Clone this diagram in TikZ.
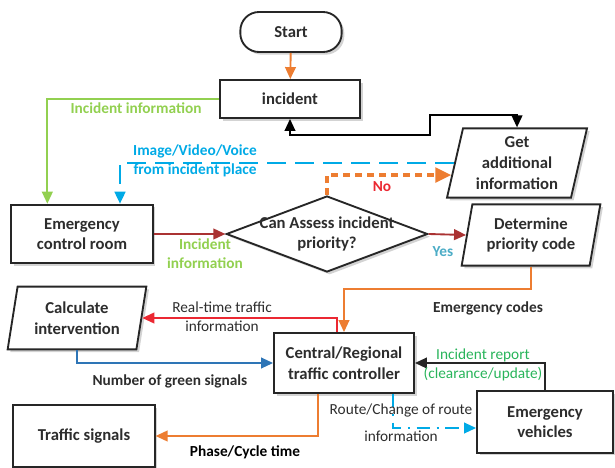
\documentclass[tikz,border=0pt]{standalone}
\usepackage{fontspec}
\setmainfont{Carlito}
\usetikzlibrary{shapes.geometric,shadows,arrows.meta,calc}

\definecolor{cOrange}{RGB}{237,125,49}
\definecolor{cLime}{RGB}{146,208,80}
\definecolor{cSky}{RGB}{0,170,230}
\definecolor{cBlue}{RGB}{46,117,182}
\definecolor{cBrick}{RGB}{170,50,50}
\definecolor{cRed}{RGB}{235,40,50}
\definecolor{cTeal}{RGB}{75,172,198}
\definecolor{cGreen}{RGB}{40,180,90}
\definecolor{cText}{RGB}{45,45,45}

\begin{document}
\begin{tikzpicture}[x=0.75pt,y=-0.75pt]
                \tikzset{every node/.style={font=\fontsize{12.5}{15.5}\selectfont\bfseries, align=center, text=cText},
                         box/.style={draw=black!85, line width=1.4pt, fill=white, drop shadow={shadow xshift=2pt, shadow yshift=-2pt, opacity=.35}},
                         iobox/.style={box, trapezium, trapezium left angle=73, trapezium right angle=107, trapezium stretches body, inner sep=0pt},
                         lbl/.style={font=\fontsize{11.5}{14.5}\selectfont\bfseries},
                         wire/.style={line width=1.4pt, -{Triangle[length=9pt,width=8pt]}}}
                \useasboundingbox (0,0) rectangle (615,468);
                % start and incident
                \node[box, rounded corners=14pt, minimum width=76pt, minimum height=30pt] (start) at (291,32) {Start};
                \node[box, minimum width=105pt, minimum height=28.5pt] (incident) at (290,99) {incident};
                \node[iobox, minimum width=105pt, minimum height=52pt] (getinfo) at (517,163) {Get\\additional\\information};
                % decision row
                \node[box, minimum width=106pt, minimum height=44pt] (ecr) at (82,234) {Emergency\\control room};
                \node[box, diamond, minimum width=151pt, minimum height=57pt, inner sep=0pt] (assess) at (327,234) {};
                \node (assesstxt) at (assess) {Can Assess incident\\priority?};
                \node[iobox, minimum width=104pt, minimum height=46pt] (dpc) at (531,235) {Determine\\priority code};
                % controller row
                \node[iobox, minimum width=104pt, minimum height=47pt] (calc) at (77,318) {Calculate\\intervention};
                \node[box, minimum width=105pt, minimum height=45pt] (ctrl) at (344,363) {Central/Regional\\traffic controller};
                \node[box, minimum width=106pt, minimum height=46pt] (ts) at (84,436) {Traffic signals};
                \node[box, minimum width=102pt, minimum height=46pt] (ev) at (545,422) {Emergency\\vehicles};
                % connectors
                \draw[wire, cOrange] (start) -- (incident);
                \draw[wire, cLime] (incident.west) -| ([xshift=-26pt]ecr.north);
                \node[lbl, text=cLime] (lInfo) at (136,108) {Incident information};
                \draw[line width=1.4pt, {Triangle[length=9pt,width=8pt]}-{Triangle[length=9pt,width=8pt]}] (incident.south) -- ++(0,16) -| (430,115) -| (getinfo.north);
                \draw[wire, cSky, line width=1.8pt, dash pattern=on 14pt off 7pt] (getinfo.west) -| ([xshift=28.5pt]ecr.north);
                \node[lbl, text=cSky] (lMedia) at (195,161) {Image/Video/Voice\\from incident place};
                \draw[cOrange, line width=2.6pt, dash pattern=on 5pt off 4pt, -{Triangle[length=12pt,width=11pt]}] (assess.north) |- ($(getinfo.bottom left corner)!.33!(getinfo.top left corner)$);
                \node[lbl, text=cRed] (lNo) at (382,187) {No};
                \draw[wire, cBrick] (ecr) -- (assess.west);
                \node[lbl, text=cLime] (lInfo2) at (205,254) {Incident\\information};
                \draw[wire, cBrick] (assess.east) -- (dpc.west);
                \node[lbl, text=cTeal] (lYes) at (443,252) {Yes};
                \draw[wire, cOrange] (dpc.south) -- ++(0,22) -| (ctrl.north);
                \node[lbl] (lCodes) at (488,308) {Emergency codes};
                \draw[wire, cRed] ([xshift=-5.5pt]ctrl.north) |- (calc.east);
                \node[lbl, font=\fontsize{11.5}{14.5}\selectfont] (lReal) at (222,317) {Real-time traffic\\information};
                \draw[wire, cBlue] (calc.south) |- (ctrl.west);
                \node[lbl] (lGreen) at (170,381) {Number of green signals};
                \draw[wire, cOrange] ([xshift=-19.5pt]ctrl.south) |- (ts.east);
                \node[lbl, text=black] (lPhase) at (245,452) {Phase/Cycle time};
                \draw[wire, black!85] (ev.north) |- (ctrl.east);
                \node[lbl, font=\fontsize{11.5}{14.5}\selectfont, text=cGreen] (lReport) at (483,365) {Incident report\\(clearance/update)};
                \draw[wire, cSky, dash pattern=on 10pt off 5pt on 1.5pt off 5pt] ([xshift=37pt]ctrl.south) |- ([yshift=-4.5pt]ev.west);
                \node[lbl, font=\fontsize{11.5}{20}\selectfont] (lRoute) at (401,423) {Route/Change of route\\information};
            \end{tikzpicture}
\end{document}
